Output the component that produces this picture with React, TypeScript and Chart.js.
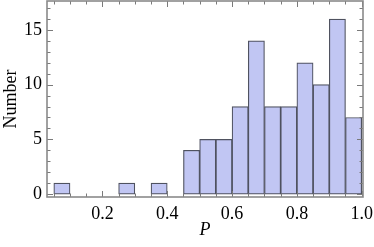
import React, { useEffect, useRef } from "react";
import { Chart, registerables } from "chart.js";

Chart.register(...registerables);

const binCenters = [0.075, 0.275, 0.375, 0.475, 0.525, 0.575, 0.625, 0.675, 0.725, 0.775, 0.825, 0.875, 0.925, 0.975];
const counts = [1, 1, 1, 4, 5, 5, 8, 14, 8, 8, 12, 10, 16, 7];
const xTicks = [0.2, 0.4, 0.6, 0.8, 1.0];
const yTicks = [0, 5, 10, 15];
const xMinorTicks = [0.05, 0.1, 0.15, 0.2, 0.25, 0.3, 0.35, 0.4, 0.45, 0.5, 0.55, 0.6, 0.65, 0.7, 0.75, 0.8, 0.85, 0.9, 0.95, 1.0];
const yMinorTicks = [0, 1, 2, 3, 4, 5, 6, 7, 8, 9, 10, 11, 12, 13, 14, 15, 16, 17];

const FONT = "'Liberation Serif', 'DejaVu Serif', serif";

const framePlugin = {
  id: "mmaFrame",
  afterDraw(chart: any) {
    const { ctx, chartArea: a, scales } = chart;
    const xs = scales.x;
    const ys = scales.y;
    ctx.save();
    ctx.strokeStyle = "#7a7a7a";
    ctx.lineWidth = 1;
    ctx.beginPath();
    for (const v of xMinorTicks) {
      const px = Math.round(xs.getPixelForValue(v)) + 0.5;
      const major = xTicks.some((t) => Math.abs(t - v) < 1e-9);
      const len = major ? 6 : 3.5;
      ctx.moveTo(px, a.bottom);
      ctx.lineTo(px, a.bottom - len);
      ctx.moveTo(px, a.top);
      ctx.lineTo(px, a.top + len);
    }
    for (const v of yMinorTicks) {
      const py = Math.round(ys.getPixelForValue(v)) + 0.5;
      const major = yTicks.includes(v);
      const len = major ? 6 : 3.5;
      ctx.moveTo(a.left, py);
      ctx.lineTo(a.left + len, py);
      ctx.moveTo(a.right, py);
      ctx.lineTo(a.right - len, py);
    }
    ctx.stroke();
    ctx.lineWidth = 1.6;
    ctx.strokeStyle = "#8a8a8a";
    ctx.strokeRect(a.left, a.top, a.right - a.left, a.bottom - a.top);
    ctx.restore();
  },
};

export default function App() {
  const ref = useRef<HTMLCanvasElement | null>(null);
  useEffect(() => {
    document.body.style.margin = "0";
    const canvas = ref.current;
    if (!canvas) return;
    const chart = new Chart(canvas, {
      type: "bar",
      data: {
        datasets: [
          {
            data: binCenters.map((x, i) => ({ x, y: counts[i] })),
            backgroundColor: "#c1c6f3",
            borderColor: "#4f5260",
            borderWidth: 1.2,
            borderSkipped: false,
            barPercentage: 1,
            categoryPercentage: 1,
          },
        ],
      },
      options: {
        animation: false,
        responsive: true,
        maintainAspectRatio: false,
        layout: { padding: { left: 0, right: 11, top: 1, bottom: 0 } },
        plugins: { legend: { display: false }, tooltip: { enabled: false } },
        scales: {
          x: {
            type: "linear",
            offset: false,
            min: 0.029,
            max: 1.004,
            grid: { display: false, drawTicks: false },
            border: { display: false },
            afterBuildTicks: (s: any) => {
              s.ticks = xTicks.map((v) => ({ value: v }));
            },
            afterFit: (s: any) => {
              s.height = 50;
              s.paddingLeft = 0;
              s.paddingRight = 0;
            },
            ticks: {
              padding: 6,
              maxRotation: 0,
              color: "#000",
              font: { family: FONT, size: 18 },
              callback: (v: any) => Number(v).toFixed(1),
            },
            title: {
              display: true,
              text: "P",
              color: "#000",
              padding: { top: 0, bottom: 6 },
              font: { family: FONT, size: 18, style: "italic" },
            },
          },
          y: {
            type: "linear",
            min: -0.27,
            max: 17.65,
            grid: { display: false, drawTicks: false },
            border: { display: false },
            afterBuildTicks: (s: any) => {
              s.ticks = yTicks.map((v) => ({ value: v }));
            },
            afterFit: (s: any) => {
              s.width = 47;
              s.paddingTop = 0;
              s.paddingBottom = 0;
            },
            ticks: {
              padding: 5,
              color: "#000",
              font: { family: FONT, size: 18 },
            },
            title: {
              display: true,
              text: "Number",
              color: "#000",
              padding: 0,
              font: { family: FONT, size: 18 },
            },
          },
        },
      },
      plugins: [framePlugin],
    } as any);
    return () => chart.destroy();
  }, []);
  return (
    <div style={{ position: "absolute", left: 0, top: 0, width: 374, height: 247 }}>
      <canvas ref={ref} />
    </div>
  );
}
